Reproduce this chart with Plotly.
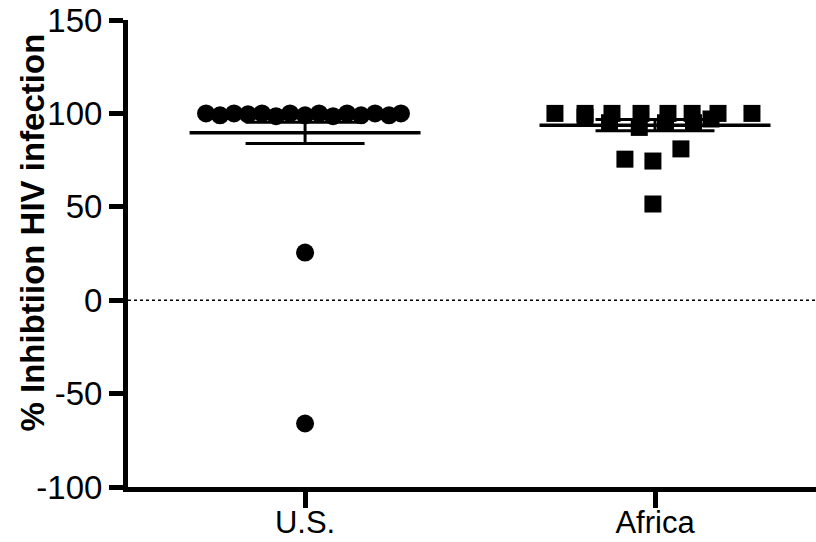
import plotly.graph_objects as go

# ---- data ----
categories = ["U.S.", "Africa"]

us_offsets = [-0.283, -0.243, -0.203, -0.163, -0.123, -0.083, -0.043, 0.0, 0.040, 0.080,
              0.120, 0.160, 0.200, 0.240, 0.274, 0.0, 0.0]
us_values = [100, 99, 100, 99.5, 100, 98.5, 100, 99, 100, 98.5,
             100, 99, 100, 99, 100, 25.5, -66.0]

africa_offsets = [-0.286, -0.200, -0.123, -0.040, 0.037, 0.106, 0.180, 0.277,
                  -0.200, -0.130, -0.045, 0.030, 0.110, 0.160,
                  -0.086, -0.006, 0.074, -0.006]
africa_values = [100, 100, 100, 100, 100, 100, 100, 100,
                 98, 95, 92.5, 95, 95, 97,
                 75.5, 74.5, 81, 51.5]

group_means = [89.6, 93.7]
group_sems = [5.7, 3.0]

y_tickvals = [-100, -50, 0, 50, 100, 150]
y_ticktext = ["-100", "-50", "0", "50", "100", "150"]
y_title = "% Inhibtiion HIV infection"

# ---- figure ----
fig = go.Figure()

groups = [(us_offsets, us_values, "circle"), (africa_offsets, africa_values, "square")]
for gi, (offs, vals, sym) in enumerate(groups):
    fig.add_trace(go.Scatter(
        x=[gi + o for o in offs], y=vals, mode="markers",
        marker=dict(symbol=sym, size=18 if sym == "circle" else 17, color="black",
                    line=dict(width=0)),
        showlegend=False, hoverinfo="y"))

for gi in range(len(categories)):
    m, s = group_means[gi], group_sems[gi]
    fig.add_trace(go.Scatter(x=[gi - 0.33, gi + 0.33], y=[m, m], mode="lines",
                             line=dict(color="black", width=3.5), showlegend=False,
                             hoverinfo="skip"))
    fig.add_trace(go.Scatter(x=[gi, gi], y=[m - s, m + s], mode="lines",
                             line=dict(color="black", width=3), showlegend=False,
                             hoverinfo="skip"))
    for cap in (m - s, m + s):
        fig.add_trace(go.Scatter(x=[gi - 0.17, gi + 0.17], y=[cap, cap], mode="lines",
                                 line=dict(color="black", width=3), showlegend=False,
                                 hoverinfo="skip"))

# dotted zero line
fig.add_shape(type="line", xref="paper", x0=0, x1=1, yref="y", y0=0, y1=0,
              line=dict(color="black", width=1.5, dash="dot"), layer="below")

# y-axis title as an annotation for exact placement
fig.add_annotation(text="<b>" + y_title + "</b>", textangle=-90,
                   xref="paper", yref="paper", x=-0.1395, y=0.545,
                   xanchor="center", yanchor="middle", showarrow=False,
                   font=dict(size=33, color="black"))

fig.update_layout(
    width=816, height=542,
    margin=dict(l=128, r=0, t=20, b=55),
    paper_bgcolor="white", plot_bgcolor="white",
    font=dict(family="Liberation Sans, Arial, sans-serif", color="black", size=32),
    xaxis=dict(range=[-0.506, 1.46], tickvals=list(range(len(categories))),
               ticktext=categories, showline=True, linewidth=5, linecolor="black",
               ticks="outside", ticklen=16, tickwidth=5, tickcolor="black",
               showgrid=False, zeroline=False, tickfont=dict(size=31),
               ticklabelstandoff=-12, automargin=False),
    yaxis=dict(range=[-100, 150], tickvals=y_tickvals, ticktext=y_ticktext,
               showline=True, linewidth=5,
               linecolor="black", ticks="outside", ticklen=14, tickwidth=5,
               tickcolor="black", showgrid=False, zeroline=False,
               tickfont=dict(size=33), automargin=False),
)

fig.write_html("out.html", config={"displayModeBar": False},
               post_script="document.body.style.margin='0';")
